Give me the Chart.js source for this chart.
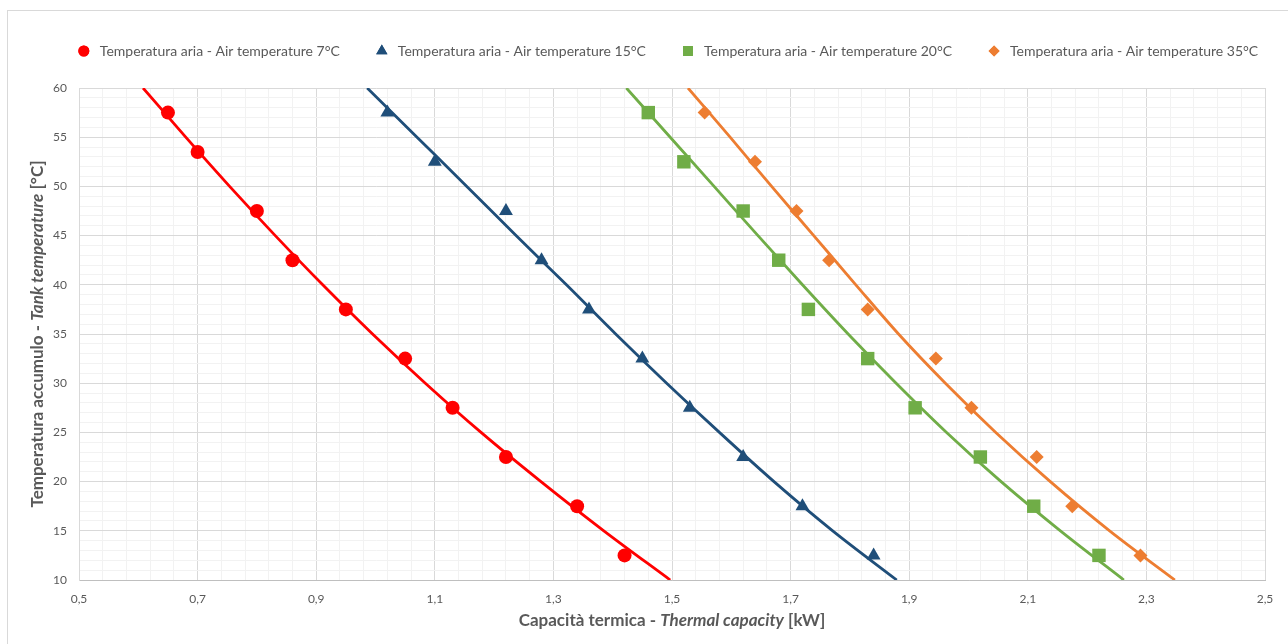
<!DOCTYPE html>
<html>
<head>
<meta charset="utf-8">
<script src="https://cdn.jsdelivr.net/npm/chart.js@4/dist/chart.umd.min.js"></script>
<style>
  html, body { margin: 0; padding: 0; background: #fff; }
  #wrap { width: 1288px; height: 644px; position: relative; }
</style>
</head>
<body>
<div id="wrap"><canvas id="chart"></canvas></div>
<script>
// measured points (kW, °C)
const seriesNames = [
  'Temperatura aria - Air temperature 7°C',
  'Temperatura aria - Air temperature 15°C',
  'Temperatura aria - Air temperature 20°C',
  'Temperatura aria - Air temperature 35°C'
];
const temps7 = [57.5, 53.5, 47.5, 42.5, 37.5, 32.5, 27.5, 22.5, 17.5, 12.5];
const tankTemps = [57.5, 52.5, 47.5, 42.5, 37.5, 32.5, 27.5, 22.5, 17.5, 12.5];
const cap7 = [0.65, 0.70, 0.80, 0.86, 0.95, 1.05, 1.13, 1.22, 1.34, 1.42];
const cap15 = [1.02, 1.10, 1.22, 1.28, 1.36, 1.45, 1.53, 1.62, 1.72, 1.84];
const cap20 = [1.46, 1.52, 1.62, 1.68, 1.73, 1.83, 1.91, 2.02, 2.11, 2.22];
const cap35 = [1.555, 1.64, 1.71, 1.765, 1.83, 1.945, 2.005, 2.115, 2.175, 2.29];

// trend lines at each 5 °C gridline
const trendTemps = [60, 55, 50, 45, 40, 35, 30, 25, 20, 15, 10];
const trend7 = [0.608, 0.680, 0.754, 0.831, 0.911, 0.995, 1.084, 1.178, 1.279, 1.385, 1.497];
const trend15 = [0.986, 1.070, 1.154, 1.237, 1.322, 1.405, 1.491, 1.580, 1.672, 1.771, 1.879];
const trend20 = [1.423, 1.497, 1.571, 1.645, 1.720, 1.797, 1.878, 1.963, 2.055, 2.155, 2.262];
const trend35 = [1.527, 1.598, 1.668, 1.739, 1.810, 1.882, 1.961, 2.046, 2.138, 2.238, 2.348];

const colors = ['#FF0000', '#1F4E79', '#70AD47', '#ED7D31'];
const styles = ['circle', 'triangle', 'rect', 'rectRot'];
const radii = [7, 8, 9.5, 7];

const caps = [cap7, cap15, cap20, cap35];
const ys = [temps7, tankTemps, tankTemps, tankTemps];
const trends = [trend7, trend15, trend20, trend35];

const toPoints = (xs, yv) => xs.map((x, i) => ({ x: x, y: yv[i] }));

const datasets = [];
trends.forEach((t, i) => {
  datasets.push({
    label: 'trend' + i,
    data: toPoints(t, trendTemps),
    showLine: true,
    borderColor: colors[i],
    borderWidth: 2.8,
    pointRadius: 0,
    cubicInterpolationMode: 'monotone',
    order: 0
  });
});
caps.forEach((c, i) => {
  datasets.push({
    label: seriesNames[i],
    data: toPoints(c, ys[i]),
    showLine: false,
    pointStyle: styles[i],
    pointRadius: radii[i],
    backgroundColor: colors[i],
    borderColor: colors[i],
    borderWidth: 0,
    order: 1
  });
});

const TEXT = '#595959';
const FONT = 'Lato, "Liberation Sans", sans-serif';

const isMajorX = v => Math.abs((v - 0.5) / 0.2 - Math.round((v - 0.5) / 0.2)) < 1e-6;
const isMajorY = v => Math.abs(v / 5 - Math.round(v / 5)) < 1e-6;

function drawRich(ctx, parts, cx, cy) {
  let total = 0;
  parts.forEach(p => { ctx.font = p.font; total += ctx.measureText(p.text).width; });
  let x = cx - total / 2;
  ctx.textBaseline = 'middle';
  ctx.textAlign = 'left';
  parts.forEach(p => {
    ctx.font = p.font;
    ctx.fillText(p.text, x, cy);
    x += ctx.measureText(p.text).width;
  });
}

const decorations = {
  id: 'decorations',
  beforeDraw(chart) {
    const ctx = chart.ctx;
    ctx.save();
    ctx.strokeStyle = '#d9d9d9';
    ctx.lineWidth = 1;
    ctx.strokeRect(7.5, 10.5, 1300, 660);
    ctx.restore();
  },
  afterDraw(chart) {
    const ctx = chart.ctx;
    ctx.save();
    ctx.fillStyle = TEXT;

    // legend
    const legendFont = '14px ' + FONT;
    ctx.font = legendFont;
    const markGap = 10, itemGap = 36, markW = 12;
    const widths = seriesNames.map(n => ctx.measureText(n).width);
    const total = widths.reduce((a, b) => a + b, 0) + seriesNames.length * (markW + markGap) + itemGap * (seriesNames.length - 1);
    let x = 668 - total / 2;
    const ly = 51;
    seriesNames.forEach((n, i) => {
      ctx.fillStyle = colors[i];
      Chart.helpers.drawPoint(ctx, { pointStyle: styles[i], radius: [5.5, 6.5, 7, 5.5][i], rotation: 0, borderWidth: 0 }, x + markW / 2, ly);
      ctx.fill();
      ctx.fillStyle = TEXT;
      ctx.font = legendFont;
      ctx.textBaseline = 'middle';
      ctx.textAlign = 'left';
      ctx.fillText(n, x + markW + markGap, ly);
      x += markW + markGap + widths[i] + itemGap;
    });

    // axis titles
    const area = chart.chartArea;
    ctx.fillStyle = TEXT;
    drawRich(ctx, [
      { text: 'Capacità termica - ', font: 'bold 17px ' + FONT },
      { text: 'Thermal capacity', font: 'italic bold 17px ' + FONT },
      { text: ' [kW]', font: 'bold 17px ' + FONT }
    ], (area.left + area.right) / 2, 621);

    ctx.translate(38, (area.top + area.bottom) / 2);
    ctx.rotate(-Math.PI / 2);
    drawRich(ctx, [
      { text: 'Temperatura accumulo - ', font: 'bold 17px ' + FONT },
      { text: 'Tank temperature', font: 'italic bold 17px ' + FONT },
      { text: ' [°C]', font: 'bold 17px ' + FONT }
    ], 0, 0);
    ctx.restore();
  }
};

new Chart(document.getElementById('chart'), {
  type: 'scatter',
  data: { datasets: datasets },
  options: {
    responsive: true,
    maintainAspectRatio: false,
    animation: false,
    layout: { padding: { left: 0, top: 88, right: 23, bottom: 0 } },
    plugins: {
      legend: { display: false },
      tooltip: { enabled: false }
    },
    scales: {
      x: {
        type: 'linear',
        min: 0.5,
        max: 2.5,
        afterFit: s => { s.height = 64; },
        border: { color: '#bfbfbf', width: 1 },
        grid: {
          drawTicks: false,
          color: c => isMajorX(c.tick.value) ? '#d9d9d9' : '#f2f2f2'
        },
        ticks: {
          stepSize: 0.04,
          autoSkip: false,
          maxRotation: 0,
          padding: 12,
          color: TEXT,
          font: { family: FONT, size: 12 },
          callback: v => isMajorX(v) ? v.toFixed(1).replace('.', ',') : ''
        }
      },
      y: {
        type: 'linear',
        min: 10,
        max: 60,
        afterFit: s => { s.width = 79; },
        border: { color: '#d9d9d9', width: 1 },
        grid: {
          drawTicks: false,
          color: c => isMajorY(c.tick.value) ? '#d9d9d9' : '#f2f2f2'
        },
        ticks: {
          stepSize: 1,
          autoSkip: false,
          padding: 12,
          color: TEXT,
          font: { family: FONT, size: 12 },
          callback: v => isMajorY(v) ? String(v) : ''
        }
      }
    }
  },
  plugins: [decorations]
});
</script>
</body>
</html>
